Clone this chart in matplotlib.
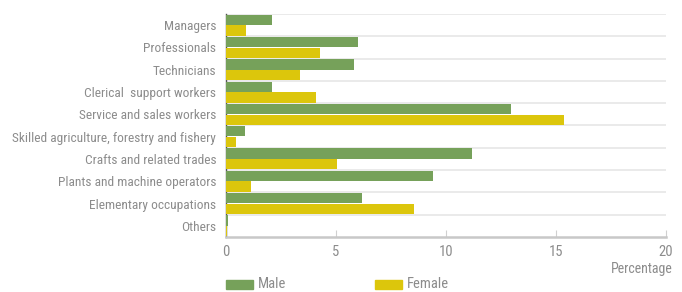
import matplotlib
matplotlib.use("Agg")
import matplotlib.pyplot as plt
import numpy as np
from matplotlib.patches import Rectangle

categories = [
    "Managers",
    "Professionals",
    "Technicians",
    "Clerical  support workers",
    "Service and sales workers",
    "Skilled agriculture, forestry and fishery",
    "Crafts and related trades",
    "Plants and machine operators",
    "Elementary occupations",
    "Others",
]
male = [2.1, 6.0, 5.8, 2.1, 12.95, 0.85, 11.2, 9.4, 6.2, 0.1]
female = [0.9, 4.25, 3.35, 4.1, 15.35, 0.45, 5.05, 1.15, 8.55, 0.05]
xticks = [0, 5, 10, 15, 20]

GREEN = "#76a15a"
YELLOW = "#dcc60c"
TEXT = "#8c8c8c"

plt.rcParams["font.family"] = ["Roboto Condensed", "Barlow Condensed",
                               "Liberation Sans Narrow", "Roboto", "DejaVu Sans"]

fig = plt.figure(figsize=(6.82, 2.92), dpi=100)
ax = fig.add_axes([226 / 682, 1 - 237 / 292, 440 / 682, 223 / 292])

y = np.arange(len(categories))
h = 0.46
ax.barh(y - h / 2 - 0.01, male, height=h, color=GREEN, zorder=3)
ax.barh(y + h / 2 + 0.01, female, height=h, color=YELLOW, zorder=3)

# light separators between categories
for b in np.arange(-0.5, len(categories) - 0.5, 1.0):
    ax.axhline(b, color="#e6e6e6", lw=1.2, zorder=1)

ax.set_ylim(len(categories) - 0.5, -0.5)
ax.set_xlim(0, 20)
ax.set_yticks(y)
ax.set_yticklabels(categories, fontsize=9.6, color=TEXT)
ax.set_xticks(xticks)
ax.set_xticklabels([str(t) for t in xticks], fontsize=10.5, color=TEXT)
ax.tick_params(axis="y", length=0, pad=7)
ax.tick_params(axis="x", direction="in", length=5, color="#d0d0d0", pad=6)

for s in ["top", "right"]:
    ax.spines[s].set_visible(False)
ax.spines["left"].set_color("#555555")
ax.spines["left"].set_linewidth(1.0)
ax.spines["bottom"].set_color("#c8c8c8")
ax.spines["bottom"].set_linewidth(1.8)

fig.text(673 / 682, 1 - 269 / 292, "Percentage", ha="right", va="center",
         fontsize=10, color=TEXT)

# legend drawn manually along the bottom
for x0, lab, col in [(226, "Male", GREEN), (375, "Female", YELLOW)]:
    fig.patches.append(Rectangle((x0 / 682, 1 - 289 / 292), 27 / 682, 9 / 292,
                                 transform=fig.transFigure, color=col))
    fig.text((x0 + 32) / 682, 1 - 284 / 292, lab, ha="left", va="center",
             fontsize=10.5, color=TEXT)

fig.savefig("out.png", dpi=100)
